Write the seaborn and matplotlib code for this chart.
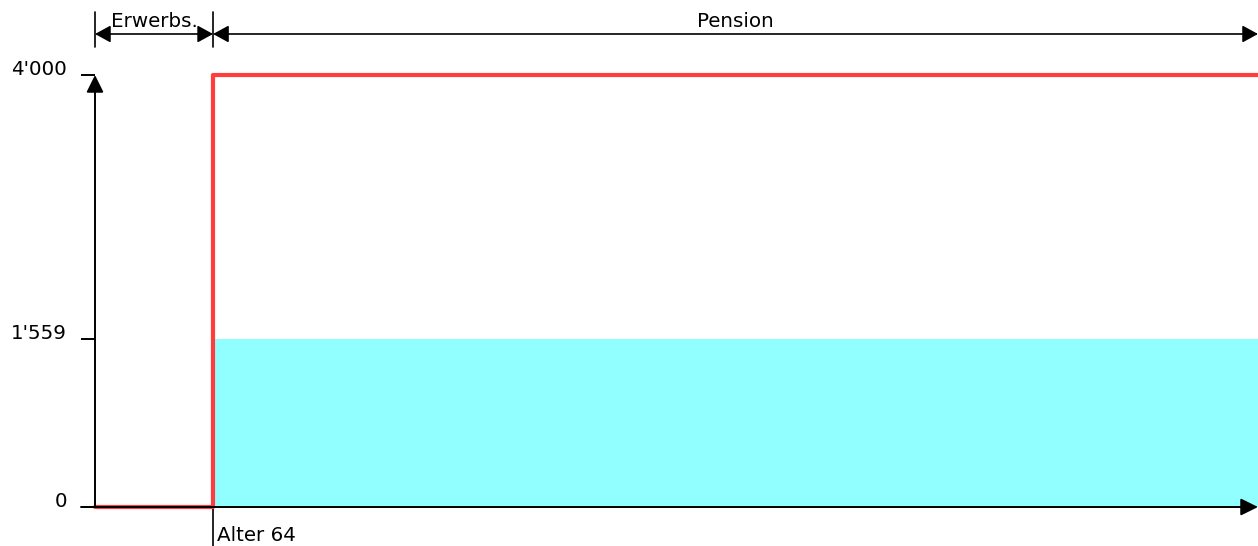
import matplotlib
matplotlib.use("Agg")
import matplotlib.pyplot as plt
import matplotlib.transforms as mtransforms
import pandas as pd
import seaborn as sb

sb.set_style("white")
plt.rcParams['font.family'] = ['DejaVu Sans']
plt.rcParams['text.color'] = 'black'
plt.rcParams['ytick.color'] = 'black'
plt.rcParams['ytick.labelcolor'] = 'black'

# data
age_start = 60
age_retire = 64
age_end = 99.4
income_x = [age_start, age_retire, age_end]
income_y = [0, 4000, 4000]
pension_level = 1559
ytick_vals = [0, 1559, 4000]
ytick_labels = ["0", "1'559", "4'000"]
phase_labels = ["Erwerbs.", "Pension"]
retire_label = "Alter 64"

red = '#ff3d3d'
cyan = '#91ffff'
W, H = 1258, 546

fig = plt.figure(figsize=(W / 100, H / 100), dpi=100)
ax = fig.add_axes([95 / W, 39 / H, 1163 / W, 432 / H])

df = pd.DataFrame({'age': income_x, 'income': income_y})
ax.fill_between([age_retire, age_end], 0, pension_level, color=cyan, lw=0, zorder=1)
sb.lineplot(data=df, x='age', y='income', drawstyle='steps-post', color=red,
            lw=3, ax=ax, zorder=3, clip_on=False)

ax.set_xlim(age_start, age_end)
ax.set_ylim(0, 4000)
for s in ax.spines.values():
    s.set_visible(False)
ax.set_xlabel('')
ax.set_ylabel('')
ax.set_xticks([])
ax.set_yticks(ytick_vals)
ax.set_yticklabels(ytick_labels, fontsize=14.3)
ax.tick_params(axis='y', left=True, direction='out', length=10, width=1.4,
               pad=10, color='black', labelcolor='black')
for lab in ax.get_yticklabels():
    lab.set_va('baseline')

arrow = dict(arrowstyle='-|>,head_length=1.05,head_width=0.52', color='black',
             lw=1.4, shrinkA=0, shrinkB=0)
# y axis
ax.annotate('', xy=(0, 1), xytext=(0, 0), xycoords='axes fraction',
            arrowprops=arrow, annotation_clip=False)
# x axis
ax.annotate('', xy=(1, 0), xytext=(-14 / 1163, 0), xycoords='axes fraction',
            arrowprops=arrow, annotation_clip=False, zorder=4)

blend = mtransforms.blended_transform_factory(ax.transData, ax.transAxes)

# retirement marker
ax.plot([age_retire, age_retire], [0, -39 / 432], color='black', lw=1.2,
        transform=blend, clip_on=False)
ax.text(age_retire + 0.13, -0.045, retire_label, transform=blend, fontsize=14.3,
        ha='left', va='top')

# phase dimension lines
dim_y = 41 / 432 + 1
dim_arrow = dict(arrowstyle='<|-|>,head_length=0.95,head_width=0.52', color='black',
                 lw=1.2, shrinkA=0, shrinkB=0)
bounds = [(age_start, age_retire), (age_retire, age_end)]
for (x0, x1), label in zip(bounds, phase_labels):
    ax.annotate('', xy=(x1, dim_y), xytext=(x0, dim_y), xycoords=blend,
                arrowprops=dim_arrow, annotation_clip=False)
    ax.text((x0 + x1) / 2, dim_y + 0.008, label, transform=blend, fontsize=14.3,
            ha='center', va='bottom')
for x in [age_start, age_retire]:
    ax.plot([x, x], [1 + 28 / 432, 1 + 63 / 432], color='black', lw=1.2,
            transform=blend, clip_on=False)

fig.savefig('out.png', dpi=100)
